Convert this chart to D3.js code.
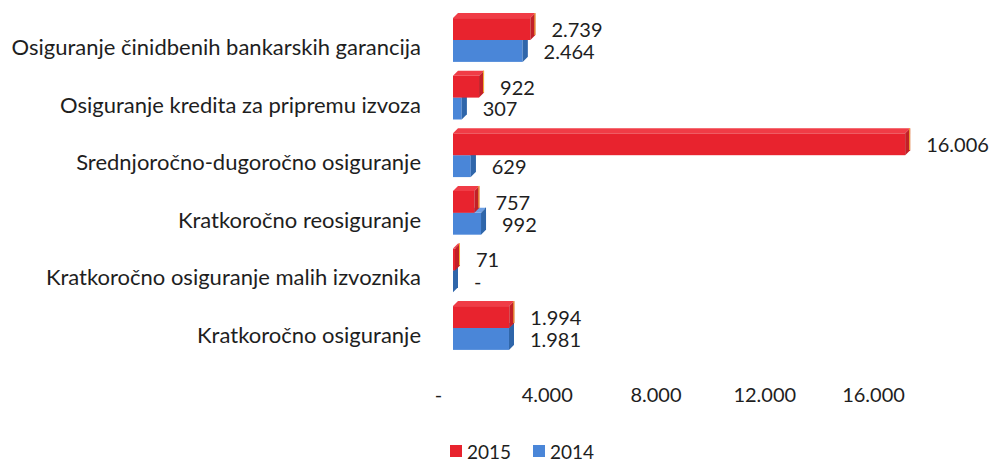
<!DOCTYPE html>
<html>
<head>
<meta charset="utf-8">
<script src="https://cdn.jsdelivr.net/npm/d3@7"></script>
<style>
  body { margin: 0; background: #fff; }
  text { font-family: Lato, "Open Sans", sans-serif; fill: #1e1e1e; }
</style>
</head>
<body>
<div id="chart"></div>
<script>
var categories = [
  "Osiguranje činidbenih bankarskih garancija",
  "Osiguranje kredita za pripremu izvoza",
  "Srednjoročno-dugoročno osiguranje",
  "Kratkoročno reosiguranje",
  "Kratkoročno osiguranje malih izvoznika",
  "Kratkoročno osiguranje"
];
var years = ["2015", "2014"];
var values2015 = [2739, 922, 16006, 757, 71, 1994];
var values2014 = [2464, 307, 629, 992, 0, 1981];
var tickValues = [0, 4000, 8000, 12000, 16000];

var width = 991, height = 461;
var depth = 5;

var colors = {
  "2015": { front: "#e8232e", top: "#f03c46", side: "#c21f27", edge: "#f3b23a" },
  "2014": { front: "#4a86d8", top: "#6d9fe4", side: "#2f66aa", edge: "#2f66aa" }
};

var locale = d3.formatLocale({ decimal: ",", thousands: ".", grouping: [3], currency: ["", ""] });
var fmtNum = locale.format(",d");
function fmt(v) { return v === 0 ? "-" : fmtNum(v); }

var svg = d3.select("#chart")
  .append("svg")
  .attr("width", width)
  .attr("height", height);

// bars sit in front of the 3d floor, the axis labels sit on it
var x = d3.scaleLinear().domain([0, 16000]).range([453, 905]);
var xFloor = d3.scaleLinear().domain([0, 16000]).range([438, 873]);

var y = d3.scaleBand()
  .domain(categories)
  .range([11.2, 356.8])
  .paddingInner(0.24)
  .paddingOuter(0.12);

var ySub = d3.scaleBand()
  .domain(years)
  .range([0, y.bandwidth()]);

var rows = categories.map(function(c, i) {
  return { cat: c, series: [
    { year: "2014", value: values2014[i] },
    { year: "2015", value: values2015[i] }
  ] };
});

var groups = svg.append("g")
  .selectAll("g")
  .data(rows)
  .enter().append("g")
    .attr("transform", function(d) { return "translate(0," + y(d.cat) + ")"; });

var bars = groups.selectAll("g.bar")
  .data(function(d) { return d.series; })
  .enter().append("g")
    .attr("class", "bar");

function geom(d) {
  var x0 = x(0), x1 = x(d.value);
  var yt = ySub(d.year), yb = yt + ySub.bandwidth();
  return { x0: x0, x1: x1, yt: yt, yb: yb };
}

bars.append("rect")
  .attr("x", function(d) { return geom(d).x0; })
  .attr("y", function(d) { return geom(d).yt; })
  .attr("width", function(d) { var g = geom(d); return g.x1 - g.x0; })
  .attr("height", ySub.bandwidth())
  .attr("fill", function(d) { return colors[d.year].front; });

bars.append("polygon")
  .attr("points", function(d) {
    var g = geom(d);
    return [[g.x0, g.yt], [g.x1, g.yt], [g.x1 + depth, g.yt - depth], [g.x0 + depth, g.yt - depth]].join(" ");
  })
  .attr("fill", function(d) { return colors[d.year].top; });

bars.append("polygon")
  .attr("points", function(d) {
    var g = geom(d);
    return [[g.x1, g.yt], [g.x1 + depth, g.yt - depth], [g.x1 + depth, g.yb - depth], [g.x1, g.yb]].join(" ");
  })
  .attr("fill", function(d) { return colors[d.year].side; });

bars.append("line")
  .attr("x1", function(d) { return geom(d).x1 + depth - 0.5; })
  .attr("x2", function(d) { return geom(d).x1 + depth - 0.5; })
  .attr("y1", function(d) { return geom(d).yt - depth; })
  .attr("y2", function(d) { return geom(d).yb - depth; })
  .attr("stroke", function(d) { return colors[d.year].edge; })
  .attr("stroke-width", 1);

// value labels
bars.append("text")
  .attr("x", function(d) { return x(d.value) + 21; })
  .attr("y", function(d) { return ySub(d.year) + ySub.bandwidth() - 3; })
  .style("font-size", "20px")
  .text(function(d) { return fmt(d.value); });

// category labels
svg.append("g")
  .selectAll("text")
  .data(categories)
  .enter().append("text")
    .attr("x", 421)
    .attr("y", function(d) { return y(d) + y.bandwidth() / 2 + 15; })
    .attr("text-anchor", "end")
    .style("font-size", "22px")
    .text(function(d) { return d; });

// value axis
var axis = svg.append("g")
  .attr("transform", "translate(0,388)")
  .call(d3.axisBottom(xFloor).tickValues(tickValues).tickFormat(fmt).tickSize(0).tickPadding(0));
axis.select(".domain").remove();
axis.selectAll("text")
  .attr("fill", "#1e1e1e")
  .style("font-family", "Lato, 'Open Sans', sans-serif")
  .style("font-size", "20px");

// legend
var legend = svg.append("g")
  .selectAll("g")
  .data(years)
  .enter().append("g")
    .attr("transform", function(d, i) { return "translate(" + (450 + i * 83) + ",445)"; });

legend.append("rect")
  .attr("width", 12)
  .attr("height", 12)
  .attr("fill", function(d) { return colors[d].front; });

legend.append("text")
  .attr("x", 17)
  .attr("y", 13.5)
  .style("font-size", "19px")
  .text(function(d) { return d; });
</script>
</body>
</html>
